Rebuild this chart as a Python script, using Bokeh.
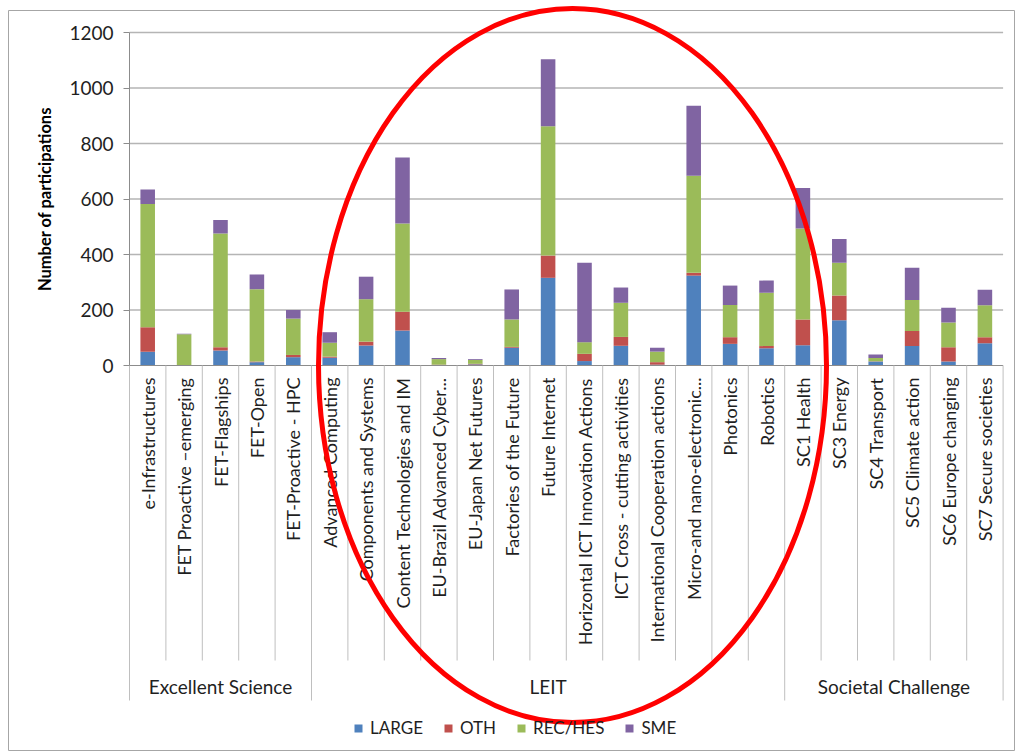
from math import pi
from bokeh.plotting import figure
from bokeh.models import ColumnDataSource, Range1d, FixedTicker
from bokeh.core.properties import value
from bokeh.embed import file_html
from bokeh.resources import INLINE

# ---------------- data ----------------
CATEGORIES = [
    "e-Infrastructures", "FET Proactive \u2013emerging", "FET-Flagships", "FET-Open",
    "FET-Proactive - HPC",
    "Advanced Computing", "Components and Systems", "Content Technologies and IM",
    "EU-Brazil Advanced Cyber...", "EU-Japan Net Futures", "Factories of the Future",
    "Future Internet", "Horizontal ICT Innovation Actions", "ICT Cross - cutting activities",
    "International Cooperation actions", "Micro-and nano-electronic...", "Photonics",
    "Robotics",
    "SC1 Health", "SC3 Energy", "SC4 Transport", "SC5 Climate action",
    "SC6 Europe changing", "SC7 Secure societies",
]
GROUPS = ["Excellent Science", "LEIT", "Societal Challenge"]
GROUP_SIZES = [5, 13, 6]
SERIES = ["LARGE", "OTH", "REC/HES", "SME"]
LARGE = [50, 0, 54, 12, 30, 28, 72, 126, 2, 4, 64, 316, 16, 71, 3, 324, 78, 62, 73, 163, 14, 70, 14, 80]
OTH = [88, 0, 12, 2, 8, 4, 14, 68, 1, 2, 3, 80, 26, 32, 9, 10, 24, 8, 93, 89, 1, 54, 52, 22]
REC_HES = [444, 113, 410, 261, 131, 50, 153, 318, 20, 14, 99, 466, 42, 123, 38, 350, 116, 192, 328, 118, 12, 112, 89, 115]
SME = [52, 1, 48, 53, 31, 38, 81, 238, 4, 3, 108, 242, 286, 55, 14, 252, 70, 44, 146, 86, 13, 116, 53, 56]
Y_TICKS = [0, 200, 400, 600, 800, 1000, 1200]
COLORS = ["#4F81BD", "#C0504D", "#9BBB59", "#8064A2"]

# ---------------- layout helpers ----------------
W, H = 1016, 753
FRAME_L, FRAME_R, FRAME_T, FRAME_B = 8, 1014, 10, 750
X0_PX, CAT_PX = 147.2, 36.4        # pixel centre of first category, category pitch
Y0_PX, YTOP_PX = 365.0, 32.0       # pixel rows of 0 and 1200
PPU = (Y0_PX - YTOP_PX) / Y_TICKS[-1]

x_start = (FRAME_L - X0_PX) / CAT_PX
x_end = (FRAME_R - X0_PX) / CAT_PX
y_end = (Y0_PX - FRAME_T) / PPU
y_start = -(FRAME_B - Y0_PX) / PPU


def ypx(px):
    return -(px - Y0_PX) / PPU


FONT = "Lato"
TEXT_COLOR = "#1F1F1F"

n = len(CATEGORIES)
xs = list(range(n))
src = ColumnDataSource(dict(x=xs, LARGE=LARGE, OTH=OTH, REC=REC_HES, SME=SME))

p = figure(width=W, height=H,
           x_range=Range1d(x_start, x_end), y_range=Range1d(y_start, y_end),
           x_axis_location=None, y_axis_location="left",
           min_border_left=FRAME_L, min_border_right=W - FRAME_R,
           min_border_top=FRAME_T, min_border_bottom=H - FRAME_B,
           output_backend="svg", toolbar_location=None)
p.grid.visible = False
p.outline_line_color = "#A6A6A6"
p.outline_line_width = 1
p.background_fill_color = "white"
p.border_fill_color = "white"

left_edge = -0.5
right_edge = n - 0.5

# gridlines
gy = [t for t in Y_TICKS if t > 0]
p.segment(x0=[left_edge] * len(gy), y0=gy, x1=[right_edge] * len(gy), y1=gy,
          line_color="#B5B5B5", line_width=1.5)

# stacked bars
renderers = p.vbar_stack(["LARGE", "OTH", "REC", "SME"], x="x", width=0.4,
                         color=COLORS, source=src, legend_label=SERIES, line_width=0)

# x axis line
p.segment(x0=[left_edge], y0=[0], x1=[right_edge], y1=[0], line_color="#8C8C8C", line_width=1.2)

# separators
group_edges = [left_edge]
for s in GROUP_SIZES:
    group_edges.append(group_edges[-1] + s)
cat_edges = [i + 0.5 for i in range(n - 1) if (i + 0.5) not in group_edges]
p.segment(x0=cat_edges, y0=[0] * len(cat_edges), x1=cat_edges, y1=[ypx(660)] * len(cat_edges),
          line_color="#BFBFBF", line_width=1)
p.segment(x0=group_edges, y0=[0] * len(group_edges), x1=group_edges, y1=[ypx(700)] * len(group_edges),
          line_color="#BFBFBF", line_width=1)

# category labels
lab_src = ColumnDataSource(dict(x=xs, y=[ypx(377)] * n, text=CATEGORIES))
p.text(x="x", y="y", text="text", source=lab_src, angle=pi / 2, text_align="right",
       text_baseline="middle", text_font=value(FONT), text_font_size="18px", text_color=TEXT_COLOR)

# group labels
gx = [(group_edges[i] + group_edges[i + 1]) / 2 for i in range(len(GROUPS))]
grp_src = ColumnDataSource(dict(x=gx, y=[ypx(686)] * len(GROUPS), text=GROUPS))
p.text(x="x", y="y", text="text", source=grp_src, text_align="center", text_baseline="middle",
       text_font=value(FONT), text_font_size="19px", text_color=TEXT_COLOR)

# y axis
ax = p.yaxis[0]
ax.fixed_location = left_edge
ax.bounds = (Y_TICKS[0], Y_TICKS[-1])
ax.ticker = FixedTicker(ticks=Y_TICKS)
ax.axis_line_color = "#8C8C8C"
ax.major_tick_line_color = "#8C8C8C"
ax.major_tick_out = 6
ax.major_tick_in = 0
ax.minor_tick_out = 0
ax.minor_tick_in = 0
ax.major_label_standoff = 10
ax.major_label_text_font = FONT
ax.major_label_text_font_size = "19px"
ax.major_label_text_color = TEXT_COLOR
ax.axis_label = "Number of participations"
ax.axis_label_text_font = FONT
ax.axis_label_text_font_size = "16.5px"
ax.axis_label_text_font_style = "bold"
ax.axis_label_text_color = "#000000"
ax.axis_label_standoff = 11

# legend
lg = p.legend[0]
lg.orientation = "horizontal"
lg.location = (345, 12)
lg.border_line_color = None
lg.background_fill_alpha = 0
lg.padding = 0
lg.margin = 0
lg.spacing = 20
lg.glyph_width = 10
lg.glyph_height = 10
lg.label_standoff = 7
lg.label_height = 20
lg.label_text_font = FONT
lg.label_text_font_size = "17px"
lg.label_text_color = TEXT_COLOR

# red ellipse annotation
ell = p.ellipse(x=[(572 - X0_PX) / CAT_PX], y=[0], width=[508 / CAT_PX], height=[714 / PPU],
                fill_color=None, line_color="#FF0000", line_width=5)
ell.level = "overlay"

open("out.html", "w").write(file_html(p, INLINE))
